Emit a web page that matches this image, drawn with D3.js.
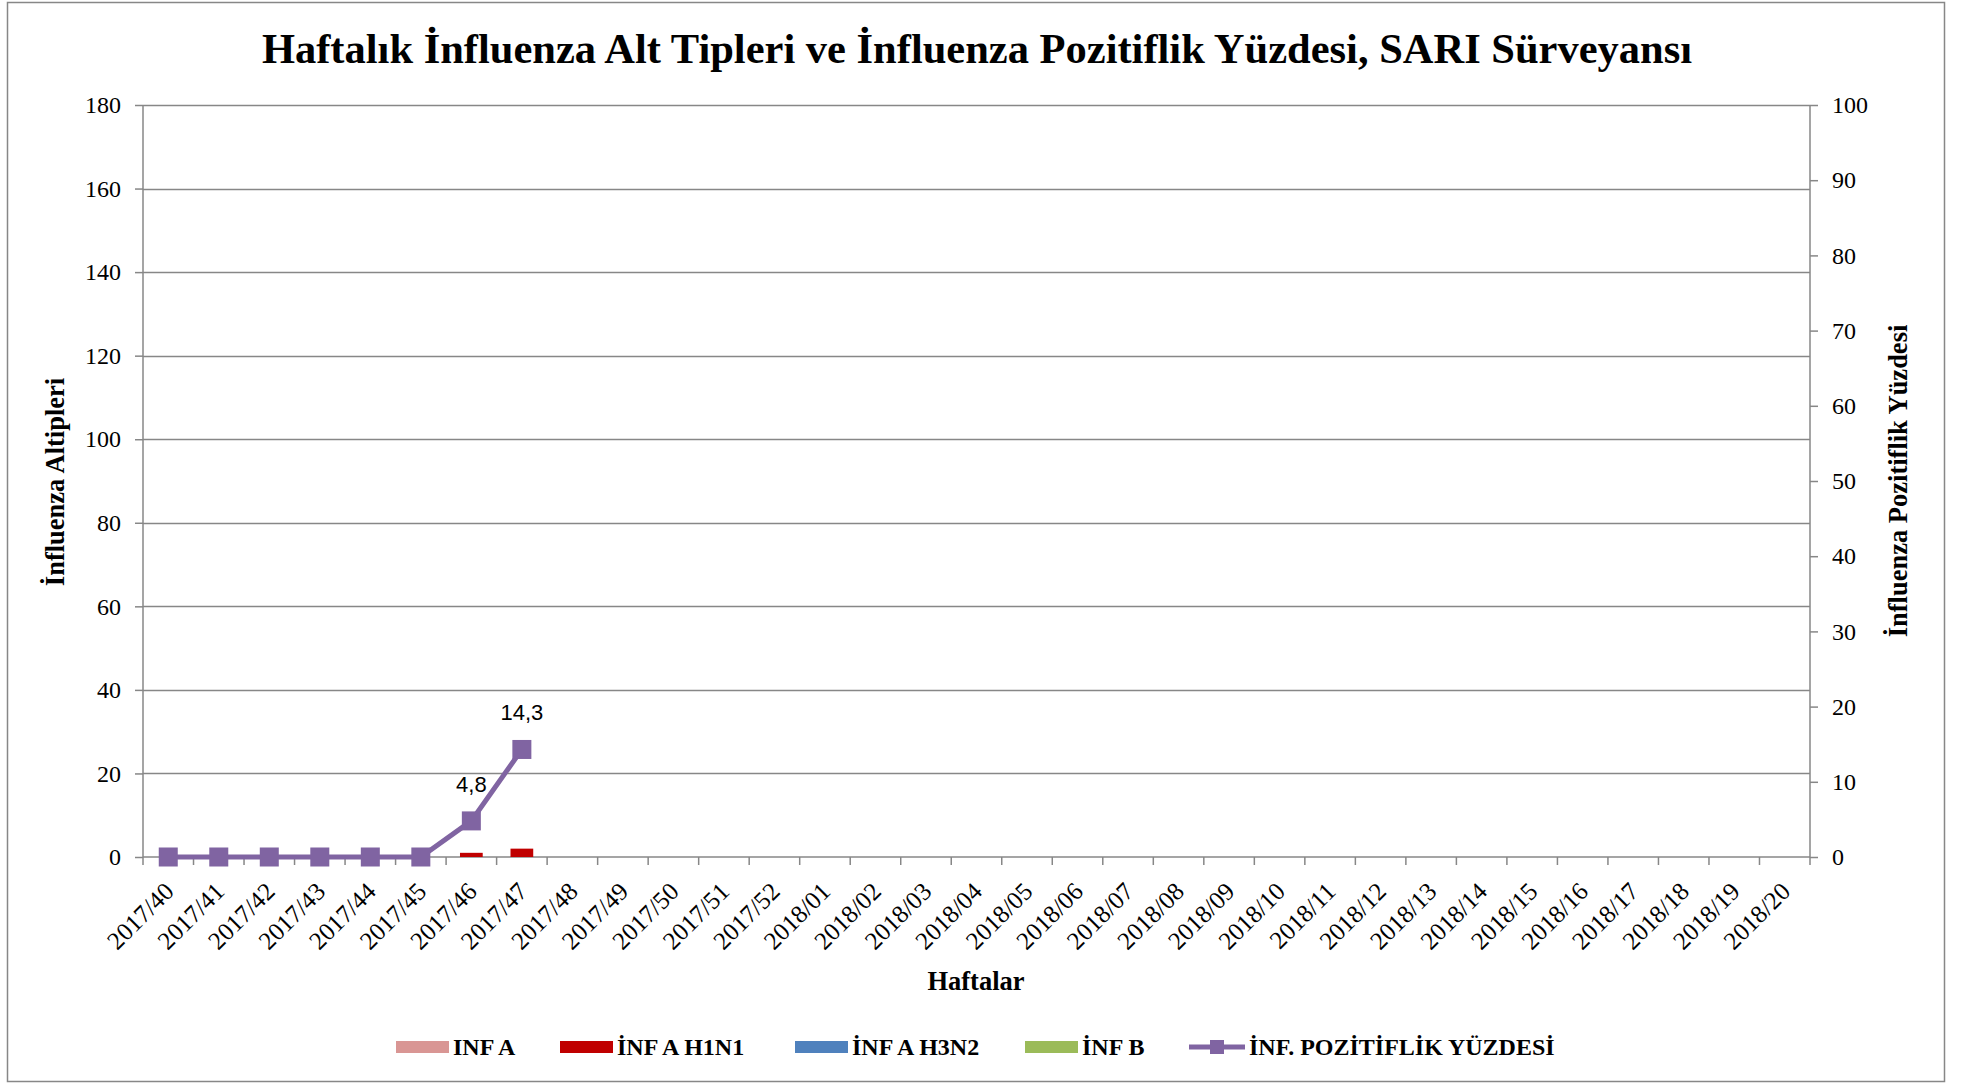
<!DOCTYPE html>
<html>
<head>
<meta charset="utf-8">
<script src="https://d3js.org/d3.v7.min.js"></script>
<style>
  body { margin: 0; background: #fff; }
  text { font-family: "Liberation Serif", "Times New Roman", serif; }
</style>
</head>
<body>
<svg id="chart" width="1973" height="1084"></svg>
<script>
// weeks (x categories)
var weeks = ["2017/40","2017/41","2017/42","2017/43","2017/44","2017/45","2017/46","2017/47",
  "2017/48","2017/49","2017/50","2017/51","2017/52","2018/01","2018/02","2018/03","2018/04",
  "2018/05","2018/06","2018/07","2018/08","2018/09","2018/10","2018/11","2018/12","2018/13",
  "2018/14","2018/15","2018/16","2018/17","2018/18","2018/19","2018/20"];

// subtype counts (left axis), only weeks with data so far
var infA     = [0, 0, 0, 0, 0, 0, 0, 0];
var infAH1N1 = [0, 0, 0, 0, 0, 0, 1, 2];
var infAH3N2 = [0, 0, 0, 0, 0, 0, 0, 0];
var infB     = [0, 0, 0, 0, 0, 0, 0, 0];

// positivity % (right axis)
var positivity = [0, 0, 0, 0, 0, 0, 4.8, 14.3];
var labeled = ["4,8", "14,3"];

var leftTicks = [0, 20, 40, 60, 80, 100, 120, 140, 160, 180];
var rightTicks = [0, 10, 20, 30, 40, 50, 60, 70, 80, 90, 100];

var seriesNames = ["INF A", "İNF A H1N1", "İNF A H3N2", "İNF B"];
var seriesColors = ["#D99694", "#C00000", "#4F81BD", "#9BBB59"];
var lineName = "İNF. POZİTİFLİK YÜZDESİ";
var lineColor = "#8064A2";

var serif = "'Liberation Serif', 'Times New Roman', serif";
var svg = d3.select("#chart");
var axisColor = "#878787";

// outer frame
svg.append("rect").attr("x", 7.5).attr("y", 2.5).attr("width", 1937).attr("height", 1079)
  .attr("fill", "none").attr("stroke", axisColor).attr("stroke-width", 1.5);

var plotL = 143, plotR = 1810, plotT = 105, plotB = 857;

var x = d3.scaleBand().domain(weeks).range([plotL, plotR]).padding(0);
var y = d3.scaleLinear().domain([0, 180]).range([plotB, plotT]);
var y2 = d3.scaleLinear().domain([0, 100]).range([plotB, plotT]);

// gridlines
svg.append("g").selectAll("line").data(leftTicks.slice(1)).enter().append("line")
  .attr("x1", plotL).attr("x2", plotR)
  .attr("y1", d => Math.round(y(d)) + 0.5).attr("y2", d => Math.round(y(d)) + 0.5)
  .attr("stroke", axisColor).attr("stroke-width", 1.5);

// left axis
var gl = svg.append("g").attr("transform", "translate(" + plotL + ",0)")
  .call(d3.axisLeft(y).tickValues(leftTicks).tickSize(8).tickPadding(14));
gl.selectAll("line, path").attr("stroke", axisColor).attr("stroke-width", 1.5);
gl.select("path").attr("d", "M0," + plotB + "V" + plotT);
gl.selectAll("text").attr("font-size", 24).style("font-family", serif).attr("fill", "#000");

// right axis
var gr = svg.append("g").attr("transform", "translate(" + plotR + ",0)")
  .call(d3.axisRight(y2).tickValues(rightTicks).tickSize(8).tickPadding(14));
gr.selectAll("line, path").attr("stroke", axisColor).attr("stroke-width", 1.5);
gr.select("path").attr("d", "M0," + plotB + "V" + plotT);
gr.selectAll("text").attr("font-size", 24).style("font-family", serif).attr("fill", "#000");

// x axis: ticks between categories
var gx = svg.append("g").attr("transform", "translate(0," + plotB + ")");
gx.append("line").attr("x1", plotL).attr("x2", plotR).attr("y1", 0).attr("y2", 0)
  .attr("stroke", axisColor).attr("stroke-width", 1.5);
var bounds = weeks.map(d => x(d)).concat([plotR]);
gx.selectAll(".tk").data(bounds).enter().append("line")
  .attr("x1", d => d).attr("x2", d => d).attr("y1", 0).attr("y2", 8)
  .attr("stroke", axisColor).attr("stroke-width", 1.5);
gx.selectAll(".lbl").data(weeks).enter().append("text")
  .attr("transform", d => "translate(" + (x(d) + x.bandwidth() / 2 + 7) + ",36) rotate(-45)")
  .attr("text-anchor", "end").attr("font-size", 25).attr("fill", "#000")
  .style("font-family", serif)
  .text(d => d);

// stacked bars
var rows = positivity.map(function(p, i) {
  return { week: weeks[i], a: infA[i], h1: infAH1N1[i], h3: infAH3N2[i], b: infB[i] };
});
var stack = d3.stack().keys(["a", "h1", "h3", "b"])(rows);
var bw = x.bandwidth() * 0.45;
svg.append("g").selectAll("g").data(stack).enter().append("g")
  .attr("fill", (d, i) => seriesColors[i])
  .selectAll("rect").data(d => d).enter().append("rect")
  .attr("x", d => x(d.data.week) + (x.bandwidth() - bw) / 2)
  .attr("y", d => y(d[1]))
  .attr("width", bw)
  .attr("height", d => y(d[0]) - y(d[1]));

// positivity line
var pts = positivity.map((p, i) => ({ week: weeks[i], v: p }));
var line = d3.line().x(d => x(d.week) + x.bandwidth() / 2).y(d => y2(d.v));
svg.append("path").datum(pts).attr("d", line)
  .attr("fill", "none").attr("stroke", lineColor).attr("stroke-width", 5);
var ms = 19;
svg.append("g").selectAll("rect").data(pts).enter().append("rect")
  .attr("x", d => x(d.week) + x.bandwidth() / 2 - ms / 2)
  .attr("y", d => y2(d.v) - ms / 2)
  .attr("width", ms).attr("height", ms).attr("fill", lineColor);

// data labels for non-zero points
var lblPts = pts.filter(d => d.v > 0);
svg.append("g").selectAll("text").data(lblPts).enter().append("text")
  .attr("x", d => x(d.week) + x.bandwidth() / 2)
  .attr("y", d => y2(d.v) - 29)
  .attr("text-anchor", "middle")
  .style("font-family", "'Liberation Sans', Arial, sans-serif")
  .attr("font-size", 22).attr("fill", "#000")
  .text((d, i) => labeled[i]);

// title
svg.append("text").attr("x", 977).attr("y", 63).attr("text-anchor", "middle")
  .attr("font-size", 42.5).attr("font-weight", "bold").style("font-family", serif)
  .text("Haftalık İnfluenza Alt Tipleri ve İnfluenza Pozitiflik Yüzdesi, SARI Sürveyansı");

// axis titles
svg.append("text").attr("transform", "translate(64,482) rotate(-90)")
  .attr("text-anchor", "middle").attr("font-size", 26.5).attr("font-weight", "bold")
  .style("font-family", serif)
  .text("İnfluenza Altipleri");
svg.append("text").attr("transform", "translate(1907,481) rotate(-90)")
  .attr("text-anchor", "middle").attr("font-size", 26.5).attr("font-weight", "bold")
  .style("font-family", serif)
  .text("İnfluenza Pozitiflik Yüzdesi");
svg.append("text").attr("x", 976).attr("y", 990).attr("text-anchor", "middle")
  .attr("font-size", 26.5).attr("font-weight", "bold").style("font-family", serif)
  .text("Haftalar");

// legend
var legX = [396, 560, 795, 1025];
var leg = svg.append("g");
seriesNames.forEach(function(name, i) {
  leg.append("rect").attr("x", legX[i]).attr("y", 1041).attr("width", 53).attr("height", 12)
    .attr("fill", seriesColors[i]);
  leg.append("text").attr("x", legX[i] + 57).attr("y", 1055).attr("font-size", 24)
    .attr("font-weight", "bold").style("font-family", serif).text(name);
});
leg.append("line").attr("x1", 1189).attr("x2", 1245).attr("y1", 1047).attr("y2", 1047)
  .attr("stroke", lineColor).attr("stroke-width", 5);
leg.append("rect").attr("x", 1210).attr("y", 1040).attr("width", 14).attr("height", 14)
  .attr("fill", lineColor);
leg.append("text").attr("x", 1249).attr("y", 1055).attr("font-size", 24)
  .attr("font-weight", "bold").style("font-family", serif).text(lineName);
</script>
</body>
</html>
